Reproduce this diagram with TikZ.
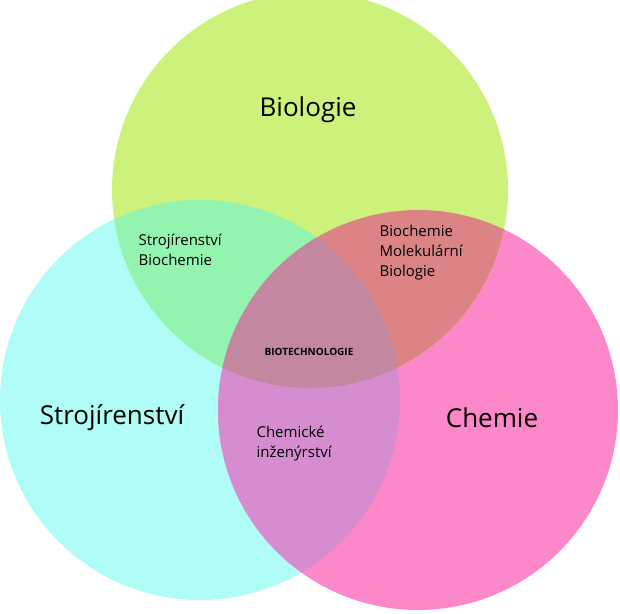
\documentclass[tikz,border=0pt]{standalone}
\usepackage{fontspec}
\setmainfont{Open Sans}
\definecolor{cg}{HTML}{CDF27B}
\definecolor{cc}{HTML}{B0FCF6}
\definecolor{cp}{HTML}{FC88C9}
\definecolor{cgc}{HTML}{92F4AE}
\definecolor{cgp}{HTML}{DC8385}
\definecolor{ccp}{HTML}{D58DD0}
\definecolor{call}{HTML}{C3889F}
\tikzset{big/.style={font=\fontsize{26}{30}\selectfont},
small/.style={font=\fontsize{15}{20}\selectfont,align=left}}
\begin{document}
\begin{tikzpicture}[x=1pt,y=-1pt]
\useasboundingbox (0,0) rectangle (620,613);
\def\G{(310,190) circle (198)}
\def\C{(200,400) circle (200)}
\def\P{(418,410) circle (200)}
\fill[cc] \C; \fill[cp] \P; \fill[cg] \G;
\begin{scope}\clip \G; \fill[cgc] \C; \fill[cgp] \P; \end{scope}
\begin{scope}\clip \C; \fill[ccp] \P; \clip \P; \fill[call] \G; \end{scope}
\node[big] (bio) at (308,110) {Biologie};
\node[big] (str) at (112,418) {Strojírenství};
\node[big] (che) at (492,418) {Chemie};
\node[small,anchor=north west] (sb) at (135,230) {Strojírenství\\Biochemie};
\node[small,anchor=north west] (bm) at (376,222) {Biochemie\\Molekulární\\Biologie};
\node[font=\fontsize{10}{12}\selectfont\bfseries] (bt) at (309,352) {BIOTECHNOLOGIE};
\node[small,anchor=north west] (ci) at (253,422) {Chemické\\inženýrství};
\end{tikzpicture}
\end{document}
